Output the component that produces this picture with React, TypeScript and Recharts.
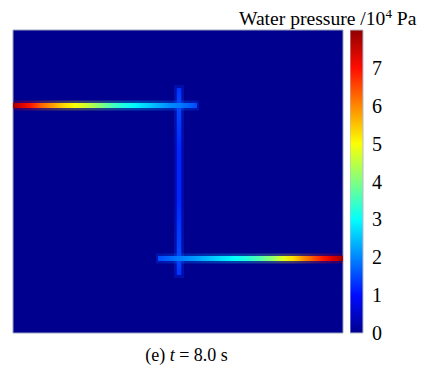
import { ComposedChart, XAxis, YAxis, ReferenceArea, Scatter } from 'recharts';

// positions along each crack (plot units, x from left edge, y from top edge)
const upperCrackPos = [0, 8, 18, 28, 40, 52, 62, 74, 86, 98, 110, 122, 134, 146, 158, 166, 176, 184];
const upperCrackVal = [7.9, 7.4, 6.9, 6.3, 5.8, 5.3, 5.0, 4.6, 4.1, 3.6, 3.2, 2.9, 2.6, 2.3, 2.0, 1.9, 1.7, 1.5];
const upperCrackY = 75.5;

const lowerCrackPos = [145, 155, 166, 180, 194, 208, 222, 236, 248, 260, 270, 280, 290, 300, 310, 320, 330];
const lowerCrackVal = [1.5, 1.7, 1.9, 2.1, 2.4, 2.7, 3.0, 3.3, 3.7, 4.2, 4.8, 5.3, 5.9, 6.4, 6.9, 7.4, 7.9];
const lowerCrackY = 228.5;

const stemPos = [58, 75, 120, 170, 228, 245];
const stemVal = [1.3, 1.5, 1.2, 1.2, 1.5, 1.3];
const stemX = 166;

const colorbarStops = [0, 1, 2, 3, 4, 5, 6, 7, 8];
const colorbarTicks = [0, 1, 2, 3, 4, 5, 6, 7];
const pMax = 8;

// matlab-style jet
function jet(v: number) {
  const t = 1 / 64 + (Math.min(1, Math.max(0, v / pMax)) * 62) / 64;
  const c = (x: number) => Math.round(255 * Math.min(1, Math.max(0, 1.5 - Math.abs(x))));
  return `rgb(${c(4 * t - 3)},${c(4 * t - 2)},${c(4 * t - 1)})`;
}

function stops(pos: number[], val: number[]) {
  const a = pos[0];
  const b = pos[pos.length - 1];
  return pos.map((p, i) => (
    <stop key={i} offset={`${((p - a) / (b - a)) * 100}%`} stopColor={jet(val[i])} />
  ));
}

const crackPoints = [
  ...upperCrackPos.map((x, i) => ({ x, y: upperCrackY, p: upperCrackVal[i] })),
  ...lowerCrackPos.map((x, i) => ({ x, y: lowerCrackY, p: lowerCrackVal[i] })),
  ...stemPos.map((y, i) => ({ x: stemX, y, p: stemVal[i] })),
];
const barPoints = colorbarStops.map((v) => ({ x: 0.5, y: v }));

const serif = '"Liberation Serif", "Times New Roman", serif';

export default function App() {
  return (
    <div style={{ position: 'absolute', left: 0, top: 0, width: 425, height: 370, background: '#fff', fontFamily: serif }}>
      <div style={{ position: 'absolute', left: 0, top: 0 }}>
        <ComposedChart width={425} height={370} data={crackPoints} margin={{ top: 30, right: 82, bottom: 37, left: 13 }}>
          <defs>
            <linearGradient id="upper" x1="0" y1="0" x2="1" y2="0">{stops(upperCrackPos, upperCrackVal)}</linearGradient>
            <linearGradient id="lower" x1="0" y1="0" x2="1" y2="0">{stops(lowerCrackPos, lowerCrackVal)}</linearGradient>
            <linearGradient id="stem" x1="0" y1="0" x2="0" y2="1">{stops(stemPos, stemVal)}</linearGradient>
          </defs>
          <XAxis type="number" dataKey="x" domain={[0, 330]} allowDataOverflow hide />
          <YAxis type="number" dataKey="y" domain={[0, 303]} allowDataOverflow reversed hide />
          <ReferenceArea x1={0} x2={330} y1={0} y2={303} fill={jet(0)} fillOpacity={1} stroke="#9aa3bd" strokeWidth={1} />
          {/* soft halo */}
          <ReferenceArea x1={stemX - 5} x2={stemX + 5} y1={stemPos[0] - 3} y2={stemPos[stemPos.length - 1] + 3} fill="url(#stem)" fillOpacity={0.25} />
          <ReferenceArea x1={upperCrackPos[0]} x2={upperCrackPos[upperCrackPos.length - 1] + 2} y1={upperCrackY - 5} y2={upperCrackY + 5} fill="url(#upper)" fillOpacity={0.25} />
          <ReferenceArea x1={lowerCrackPos[0] - 2} x2={lowerCrackPos[lowerCrackPos.length - 1]} y1={lowerCrackY - 5} y2={lowerCrackY + 5} fill="url(#lower)" fillOpacity={0.25} />
          <ReferenceArea x1={stemX - 2.2} x2={stemX + 2.2} y1={stemPos[0]} y2={stemPos[stemPos.length - 1]} fill="url(#stem)" fillOpacity={1} />
          <ReferenceArea x1={upperCrackPos[0]} x2={upperCrackPos[upperCrackPos.length - 1]} y1={upperCrackY - 2.6} y2={upperCrackY + 2.6} fill="url(#upper)" fillOpacity={1} />
          <ReferenceArea x1={lowerCrackPos[0]} x2={lowerCrackPos[lowerCrackPos.length - 1]} y1={lowerCrackY - 2.6} y2={lowerCrackY + 2.6} fill="url(#lower)" fillOpacity={1} />
          <Scatter data={crackPoints} dataKey="y" fill="none" shape={() => <g />} isAnimationActive={false} />
        </ComposedChart>
      </div>

      <div style={{ position: 'absolute', left: 350, top: 0 }}>
        <ComposedChart width={75} height={370} data={barPoints} margin={{ top: 30, right: 0, bottom: 37, left: 0 }}>
          <defs>
            <linearGradient id="jetbar" x1="0" y1="1" x2="0" y2="0">
              {colorbarStops.map((v) => (
                <stop key={v} offset={`${(v / pMax) * 100}%`} stopColor={jet(v)} />
              ))}
            </linearGradient>
          </defs>
          <XAxis type="number" dataKey="x" domain={[0, 1]} hide />
          <YAxis
            type="number"
            dataKey="y"
            orientation="right"
            width={62}
            domain={[0, pMax]}
            ticks={colorbarTicks}
            interval={0}
            axisLine={false}
            tickLine={false}
            tickSize={0}
            tickMargin={9}
            tick={{ fill: '#000', fontSize: 20, fontFamily: serif }}
          />
          <ReferenceArea x1={0} x2={1} y1={0} y2={pMax} fill="url(#jetbar)" fillOpacity={1} stroke="#b8bccb" strokeWidth={1} />
          <Scatter data={barPoints} dataKey="y" fill="none" shape={() => <g />} isAnimationActive={false} />
        </ComposedChart>
      </div>

      <div style={{ position: 'absolute', left: 239, top: 8, fontSize: 19.6, lineHeight: '22px', whiteSpace: 'nowrap', color: '#000' }}>
        Water pressure /10<span style={{ fontSize: 13, position: 'relative', top: -7 }}>4</span> Pa
      </div>
      <div style={{ position: 'absolute', left: 0, width: 373, top: 345, textAlign: 'center', fontSize: 18, lineHeight: '20px', whiteSpace: 'nowrap', color: '#000' }}>
        (e) <i>t</i> = 8.0 s
      </div>
    </div>
  );
}
